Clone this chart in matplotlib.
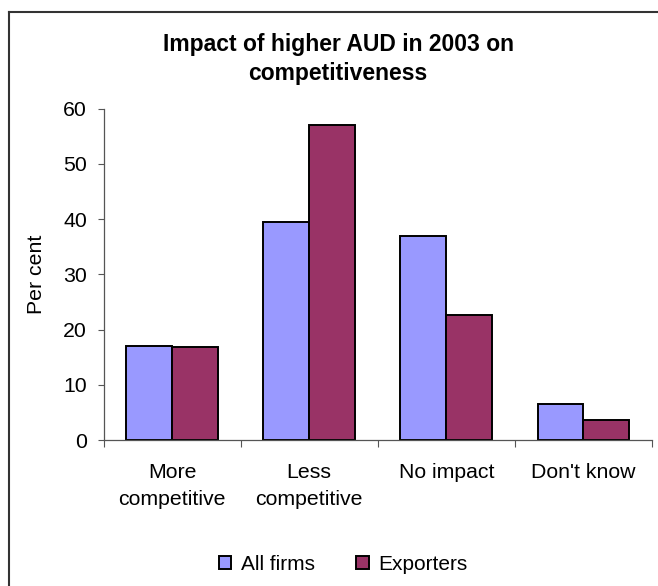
import numpy as np
import matplotlib.pyplot as plt
from matplotlib.lines import Line2D

categories = ["More\ncompetitive", "Less\ncompetitive", "No impact", "Don't know"]
all_firms = [17.1, 39.5, 36.9, 6.6]
exporters = [16.8, 57.1, 22.6, 3.7]
yticks = [0, 10, 20, 30, 40, 50, 60]

plt.rcParams['font.family'] = ['Liberation Sans', 'DejaVu Sans']

W, H = 658, 586
fig = plt.figure(figsize=(W / 100, H / 100), dpi=100)
# axes box in pixels: left 103.5, right 652, top 108.5, bottom 440.3
ax = fig.add_axes([103.5 / W, 1 - 440.3 / H, (652 - 103.5) / W, (440.3 - 108.5) / H])

x = np.arange(1, len(categories) + 1)
w = 0.335
ax.bar(x - w / 2, all_firms, w, color='#9999FF', edgecolor='black', linewidth=1.4, label='All firms')
ax.bar(x + w / 2, exporters, w, color='#993366', edgecolor='black', linewidth=1.4, label='Exporters')

ax.set_xlim(0.5, len(categories) + 0.5)
ax.set_ylim(0, 60)
ax.set_yticks(yticks)
ax.set_xticks(x)
ax.set_xticklabels(categories, fontsize=15.3, linespacing=1.5)
ax.set_xticks(np.arange(0.5, len(categories) + 1), minor=True)
ax.tick_params(axis='x', which='major', length=0, pad=16.5)
ax.tick_params(axis='x', which='minor', length=5, width=0.8, color='#555555')
ax.tick_params(axis='y', length=4.3, width=0.8, color='#555555', labelsize=15.3, pad=7.5)
for s in ['top', 'right']:
    ax.spines[s].set_visible(False)
for s in ['left', 'bottom']:
    ax.spines[s].set_color('#555555')
    ax.spines[s].set_linewidth(0.9)

ax.set_ylabel('Per cent', fontsize=15.3)
ax.yaxis.set_label_coords((37 - 103.5) / (652 - 103.5), 0.5)
ax.yaxis.label.set_va('center')

fig.text(338 / W, 1 - 59 / H, 'Impact of higher AUD in 2003 on\ncompetitiveness',
         ha='center', va='center', fontsize=16.5, fontweight='bold', linespacing=1.3)

ax.legend(loc='center', bbox_to_anchor=(343 / W, 1 - 564 / H), bbox_transform=fig.transFigure,
          ncol=2, frameon=False, fontsize=15, handlelength=0.6, handleheight=0.6,
          handletextpad=0.45, columnspacing=2.0)

# outer chart border (left and top edges visible)
fig.add_artist(Line2D([9 / W, 9 / W], [0, 1 - 12 / H], transform=fig.transFigure,
                      color='#333333', linewidth=1.5))
fig.add_artist(Line2D([9 / W, 1], [1 - 12 / H, 1 - 12 / H], transform=fig.transFigure,
                      color='#333333', linewidth=1.5))

fig.savefig('out.png', dpi=100)
